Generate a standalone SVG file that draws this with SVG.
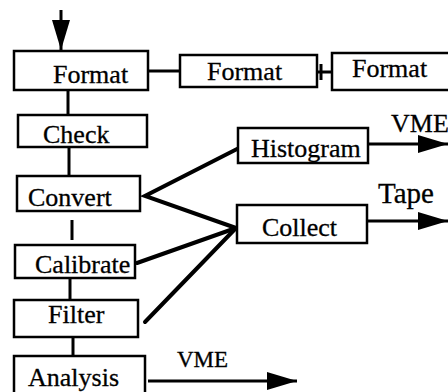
<svg xmlns="http://www.w3.org/2000/svg" width="448" height="392" viewBox="0 0 448 392">
<style>
.box{fill:#fff;stroke:#000;stroke-width:2.5}
.t{font-family:"Liberation Serif","Times New Roman",serif;font-size:26px;fill:#000;stroke:#000;stroke-width:0.3}
.c{stroke:#000;stroke-width:3;fill:none}
.w{stroke:#000;stroke-width:4;fill:none;stroke-linecap:round}
</style>
<defs>
<marker id="ah" markerUnits="userSpaceOnUse" markerWidth="30" markerHeight="18" refX="30" refY="9" orient="auto">
<path d="M0,0 L30,9 L0,18 z" fill="#000"/>
</marker>
</defs>
<rect width="448" height="392" fill="#fff"/>
<g id="connectors">
<line class="c" x1="61" y1="10" x2="61" y2="50" marker-end="url(#ah)"/>
<line class="c" x1="148" y1="71" x2="180" y2="71"/>
<line class="c" x1="317" y1="72" x2="332" y2="72"/>
<line class="c" x1="321" y1="64" x2="321" y2="80"/>
<line class="c" x1="68" y1="90" x2="68" y2="115"/>
<line class="c" x1="69" y1="147" x2="69" y2="176"/>
<line class="c" x1="72" y1="220" x2="72" y2="240"/>
<line class="c" x1="70" y1="278" x2="70" y2="300"/>
<line class="c" x1="73" y1="337" x2="73" y2="356"/>
<polyline class="w" points="239,148 145,196 236,228"/>
<line class="w" x1="137" y1="263" x2="236" y2="228"/>
<line class="w" x1="145" y1="322" x2="236" y2="228"/>
<line class="c" x1="368" y1="144" x2="448" y2="144" marker-end="url(#ah)"/>
<line class="c" x1="367" y1="221" x2="448" y2="221" marker-end="url(#ah)"/>
<line class="c" x1="148" y1="381" x2="297" y2="381" marker-end="url(#ah)"/>
<text class="t" x="391" y="132">VME</text>
<text class="t" x="378" y="203" style="font-size:29px">Tape</text>
<text class="t" x="177" y="367" style="font-size:23px">VME</text>
</g>
<g id="format1"><rect class="box" x="14" y="51" width="134" height="39"/><text class="t" x="53" y="83">Format</text></g>
<g id="format2"><rect class="box" x="180" y="55" width="137" height="32"/><text class="t" x="207" y="80">Format</text></g>
<g id="format3"><rect class="box" x="332" y="53" width="120" height="37"/><text class="t" x="352" y="77">Format</text></g>
<g id="check"><rect class="box" x="18" y="115" width="129" height="32"/><text class="t" x="43" y="143">Check</text></g>
<g id="convert"><rect class="box" x="17" y="176" width="123" height="35"/><text class="t" x="28" y="206">Convert</text></g>
<g id="calibrate"><rect class="box" x="15" y="245" width="120" height="33"/><text class="t" x="35" y="273">Calibrate</text></g>
<g id="filter"><rect class="box" x="14" y="300" width="124" height="37"/><text class="t" x="48" y="323">Filter</text></g>
<g id="analysis"><rect class="box" x="14" y="356" width="131" height="40"/><text class="t" x="28" y="386">Analysis</text></g>
<g id="histogram"><rect class="box" x="238" y="128" width="130" height="35"/><text class="t" x="251" y="157">Histogram</text></g>
<g id="collect"><rect class="box" x="237" y="205" width="130" height="38"/><text class="t" x="262" y="236">Collect</text></g>
</svg>
